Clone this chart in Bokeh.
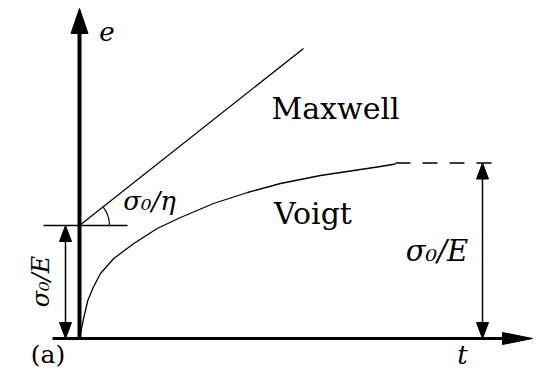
import math
from bokeh.plotting import figure
from bokeh.models import Range1d
from bokeh.core.properties import value
from bokeh.embed import file_html
from bokeh.resources import INLINE

# Creep response to a constant stress sigma_0 (strain e against time t, arbitrary units)
voigt_t = [0.0, 0.01, 0.043, 0.083, 0.137, 0.21, 0.343, 0.543, 0.777, 1.01,
           1.34, 1.68, 2.01, 2.41, 2.81, 3.01, 3.16]
voigt_e = [0.0, 0.05, 0.21, 0.38, 0.51, 0.65, 0.80, 0.95, 1.10, 1.21,
           1.35, 1.46, 1.55, 1.63, 1.69, 1.72, 1.745]
limit_t = [3.16, 4.18]          # dashed continuation towards the asymptote
voigt_limit = 1.755             # sigma_0/E reached by the Voigt model
maxwell_t = [0.0, 2.24]
maxwell_e = [1.13, 2.90]
elastic_jump = 1.13             # instantaneous sigma_0/E of the Maxwell model
jump_mark_t = [-0.36, 0.48]     # short horizontal reference at the jump
left_dim_t = -0.14              # dimension arrow for the jump
right_dim_t = 4.03              # dimension arrow for the asymptote
t_axis = [-0.27, 4.53]
e_axis = [-0.01, 3.30]

W, H = 539, 369
T0, T1 = -0.79, 4.60
E0, E1 = -0.31, 3.38
SX = W / (T1 - T0)
SY = H / (E1 - E0)

p = figure(width=W, height=H, x_range=Range1d(T0, T1), y_range=Range1d(E0, E1),
           output_backend="svg", toolbar_location=None, min_border=0)
p.axis.visible = False
p.grid.visible = False
p.outline_line_color = None
p.background_fill_color = "white"
p.border_fill_color = "white"


def head(tip_t, tip_e, direction, length_px, width_px):
    """Triangle arrowhead given its tip, pointing 'up', 'down' or 'right'."""
    if direction == "right":
        L = length_px / SX
        w = width_px / 2 / SY
        return [tip_t, tip_t - L, tip_t - L], [tip_e, tip_e + w, tip_e - w]
    L = length_px / SY
    w = width_px / 2 / SX
    sgn = -1 if direction == "up" else 1
    return [tip_t, tip_t - w, tip_t + w], [tip_e, tip_e + sgn * L, tip_e + sgn * L]


heads_x, heads_y = [], []

# axes with arrowheads
y_head_len = 25
p.line([0, 0], [e_axis[0], e_axis[1] - y_head_len / SY], line_color="black", line_width=4)
hx, hy = head(0, e_axis[1], "up", y_head_len, 17)
heads_x.append(hx); heads_y.append(hy)

x_head_len = 30
p.line([t_axis[0], t_axis[1] - x_head_len / SX], [0, 0], line_color="black", line_width=3)
hx, hy = head(t_axis[1], 0, "right", x_head_len, 12)
heads_x.append(hx); heads_y.append(hy)

# Maxwell and Voigt responses
p.line(maxwell_t, maxwell_e, line_color="black", line_width=1.3)
p.line(voigt_t, voigt_e, line_color="black", line_width=1.3, line_join="round")
p.line(limit_t, [voigt_limit, voigt_limit], line_color="black", line_width=1.3,
       line_dash="15 12")

# jump reference line and slope angle
p.line(jump_mark_t, [elastic_jump, elastic_jump], line_color="black", line_width=1.3)
slope = math.atan2((maxwell_e[1] - maxwell_e[0]) * SY, (maxwell_t[1] - maxwell_t[0]) * SX)
p.arc(x=[maxwell_t[0]], y=[elastic_jump], radius=30, radius_units="screen",
      start_angle=0, end_angle=slope, line_color="black", line_width=1.2)

# dimension arrows
dim_len, dim_w = 16, 12
for t, top in ((left_dim_t, elastic_jump), (right_dim_t, voigt_limit)):
    p.line([t, t], [dim_len / SY, top - dim_len / SY], line_color="black", line_width=1.5)
    for tip, d in ((top, "up"), (0, "down")):
        hx, hy = head(t, tip, d, dim_len, dim_w)
        heads_x.append(hx); heads_y.append(hy)

p.patches(heads_x, heads_y, fill_color="black", line_color="black", line_width=1)

serif = value("DejaVu Serif")

# math labels
p.text(x=[0.275, 3.83], y=[3.07, -0.16], text=["e", "t"], text_font=serif,
       text_font_style="italic", text_font_size="26px", text_baseline="middle",
       text_align="center", text_color="black")
p.text(x=[0.70], y=[1.38], text=["σ₀/η"], text_font=serif,
       text_font_style="italic", text_font_size="26px", text_baseline="middle",
       text_align="center", text_color="black")
p.text(x=[3.575], y=[0.88], text=["σ₀/E"], text_font=serif,
       text_font_style="italic", text_font_size="29px", text_baseline="middle",
       text_align="center", text_color="black")
p.text(x=[-0.39], y=[0.57], text=["σ₀/E"], angle=math.pi / 2, text_font=serif,
       text_font_style="italic", text_font_size="24px", text_baseline="middle",
       text_align="center", text_color="black")

# model names and panel tag
p.text(x=[2.56, 2.335], y=[2.30, 1.25], text=["Maxwell", "Voigt"], text_font=serif,
       text_font_size="30px", text_baseline="middle", text_align="center",
       text_color="black")
p.text(x=[-0.315], y=[-0.16], text=["(a)"], text_font=serif, text_font_size="25px",
       text_baseline="middle", text_align="center", text_color="black")

open("out.html", "w").write(file_html(p, INLINE))
